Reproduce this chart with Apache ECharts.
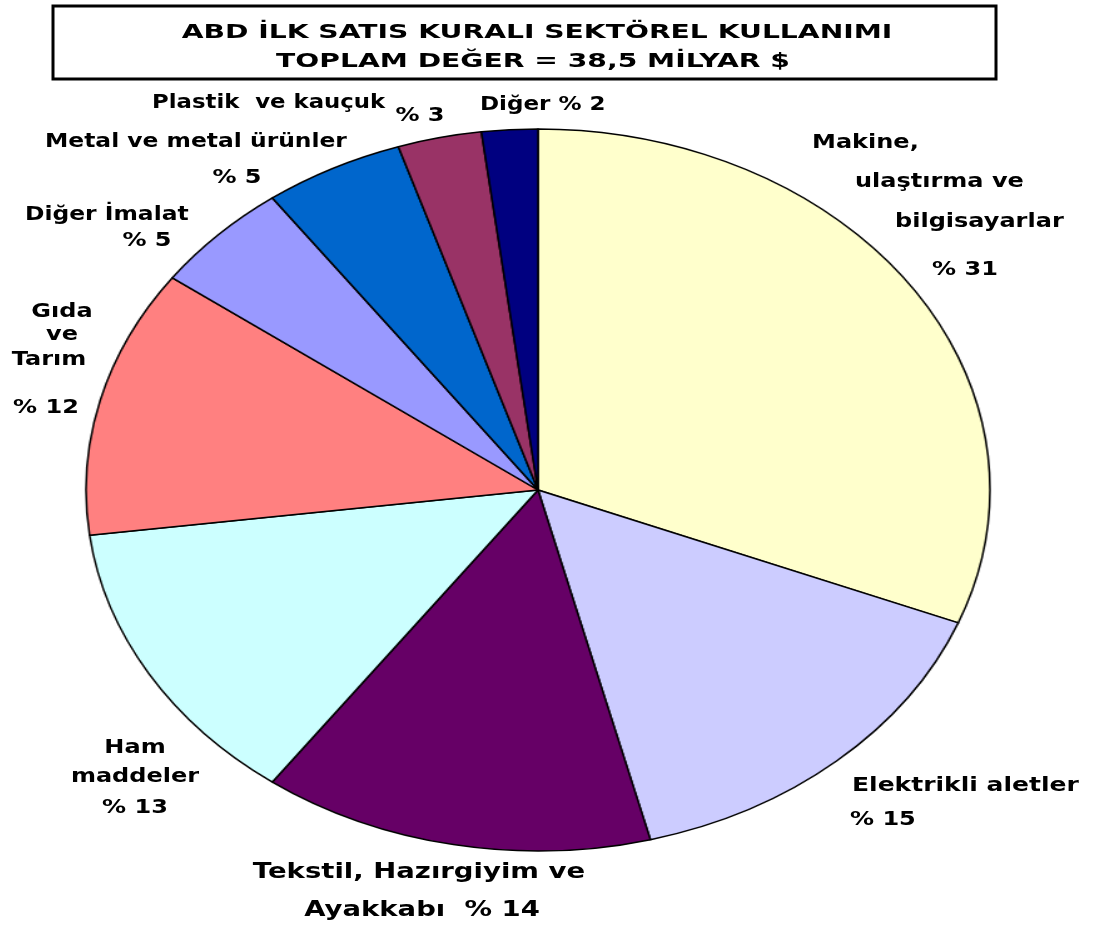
<!DOCTYPE html>
<html><head><meta charset="utf-8">
<script src="https://cdn.jsdelivr.net/npm/echarts@6/dist/echarts.min.js"></script>
<style>
html,body{margin:0;padding:0;background:#fff;}
#main{position:absolute;left:0;top:0;width:1093px;height:926px;}
#pie{position:absolute;left:176px;top:128px;width:724px;height:724px;transform:scaleX(1.252);transform-origin:362px 362px;}
</style></head>
<body>
<div id="main"></div>
<div id="pie"></div>
<script>
const titleLines = ['ABD İLK SATIS KURALI SEKTÖREL KULLANIMI', 'TOPLAM DEĞER = 38,5 MİLYAR $'];
const categories = ['Makine, ulaştırma ve bilgisayarlar', 'Elektrikli aletler', 'Tekstil, Hazırgiyim ve Ayakkabı', 'Ham maddeler', 'Gıda ve Tarım', 'Diğer İmalat', 'Metal ve metal ürünler', 'Plastik ve kauçuk', 'Diğer'];
const values = [31, 15, 14, 13, 12, 5, 5, 3, 2];
const colors = ['#FFFFCC', '#CCCCFF', '#660066', '#CCFFFF', '#FF8080', '#9999FF', '#0066CC', '#993366', '#000080'];

const pieChart = echarts.init(document.getElementById('pie'), null, {renderer: 'canvas'});
pieChart.setOption({
  animation: false,
  series: [{
    type: 'pie',
    center: ['50%', '50%'],
    radius: [0, 361],
    startAngle: 90,
    clockwise: true,
    label: {show: false},
    labelLine: {show: false},
    itemStyle: {borderColor: '#000', borderWidth: 1.5},
    data: categories.map((c, i) => ({name: c, value: values[i], itemStyle: {color: colors[i]}}))
  }]
});

const F = 'bold 20px "DejaVu Sans", sans-serif';
const FT = 'bold 20px "DejaVu Sans", sans-serif';
const FB = 'bold 22px "DejaVu Sans", sans-serif';
function t(text, x, y, align, font, sx) {
  return {type: 'text', x: x, y: y, scaleX: sx || 1.2, style: {text: text, font: font || F, fill: '#000', textAlign: align || 'left', textVerticalAlign: 'middle'}};
}
const labelEls = [
  t('Plastik  ve kauçuk', 152, 103, 'left', F, 1.14),
  t('% 3', 420, 116, 'center'),
  t('Diğer % 2', 480, 105, 'left', F, 1.15),
  t('Metal ve metal ürünler', 45, 142, 'left', F, 1.17),
  t('% 5', 237, 178, 'center'),
  t('Diğer İmalat', 25, 215, 'left', F, 1.17),
  t('% 5', 147, 241, 'center'),
  t('Gıda', 62, 312, 'center'),
  t('ve', 62, 335, 'center'),
  t('Tarım', 49, 360, 'center'),
  t('% 12', 46, 408, 'center'),
  t('Makine,', 812, 143),
  t('ulaştırma ve', 855, 182),
  t('bilgisayarlar', 895, 222),
  t('% 31', 965, 270, 'center'),
  t('Elektrikli aletler', 852, 786, 'left', F, 1.25),
  t('% 15', 850, 820),
  t('Ham', 135, 748, 'center'),
  t('maddeler', 135, 777, 'center'),
  t('% 13', 135, 808, 'center'),
  t('Tekstil, Hazırgiyim ve', 419, 872, 'center', FB, 1.25),
  t('Ayakkabı  % 14', 422, 910, 'center', FB, 1.25)
];

const main = echarts.init(document.getElementById('main'));
main.setOption({
  animation: false,
  backgroundColor: '#fff',
  graphic: [
    {type: 'rect', shape: {x: 53, y: 6, width: 943, height: 73}, style: {fill: '#fff', stroke: '#000', lineWidth: 3}},
    t(titleLines[0], 537, 33, 'center', FT, 1.41),
    t(titleLines[1], 533, 62, 'center', FT, 1.41)
  ].concat(labelEls)
});
</script>
</body></html>
